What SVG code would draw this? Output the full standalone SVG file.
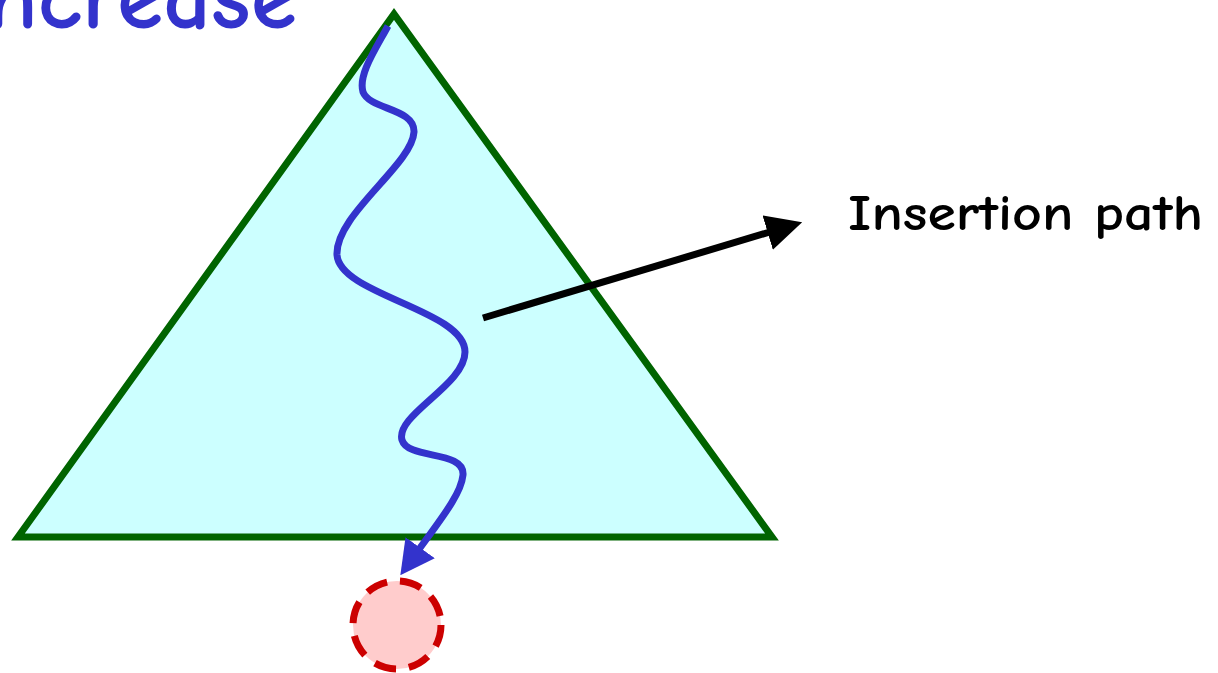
<svg xmlns="http://www.w3.org/2000/svg" width="1218" height="673" viewBox="0 0 1218 673">
<defs>
<style>
.lbl{font-family:"Comic Neue","Liberation Sans",sans-serif;font-weight:700;}
</style>
<marker id="blueHead" markerWidth="34" markerHeight="36" refX="14" refY="18" orient="auto" markerUnits="userSpaceOnUse">
<path d="M0,0 L34,18 L0,36 Z" fill="#3333cc"/>
</marker>
<marker id="blackHead" markerWidth="36" markerHeight="36" refX="16" refY="18" orient="auto" markerUnits="userSpaceOnUse">
<path d="M0,0 L36,18 L0,36 Z" fill="#000000"/>
</marker>
</defs>
<rect width="1218" height="673" fill="#ffffff"/>
<g id="title">
<text class="lbl" x="297" y="28" font-size="94" fill="#3333cc" text-anchor="end">Increase</text>
</g>
<g id="tree">
<polygon points="394,14 18,537 772,537" fill="#ccffff" stroke="#006400" stroke-width="7"/>
</g>
<g id="newnode">
<circle cx="397" cy="625" r="44" fill="#ffcccc" stroke="#cc0000" stroke-width="7" stroke-dasharray="22,13"/>
</g>
<g id="label">
<text class="lbl" x="848" y="230" font-size="50" fill="#000000" textLength="355" lengthAdjust="spacingAndGlyphs">Insertion path</text>
</g>
<g id="connectors">
<path d="M388,26 C375,50 358,75 363,92 C370,110 415,108 414,132 C412,165 335,215 337,255 C340,295 465,310 465,352 C465,385 395,415 402,440 C408,460 465,450 463,475 C461,495 440,520 412,559" fill="none" stroke="#3333cc" stroke-width="7" marker-end="url(#blueHead)"/>
<line x1="483" y1="318" x2="783" y2="228" stroke="#000000" stroke-width="7" marker-end="url(#blackHead)"/>
</g>
</svg>
